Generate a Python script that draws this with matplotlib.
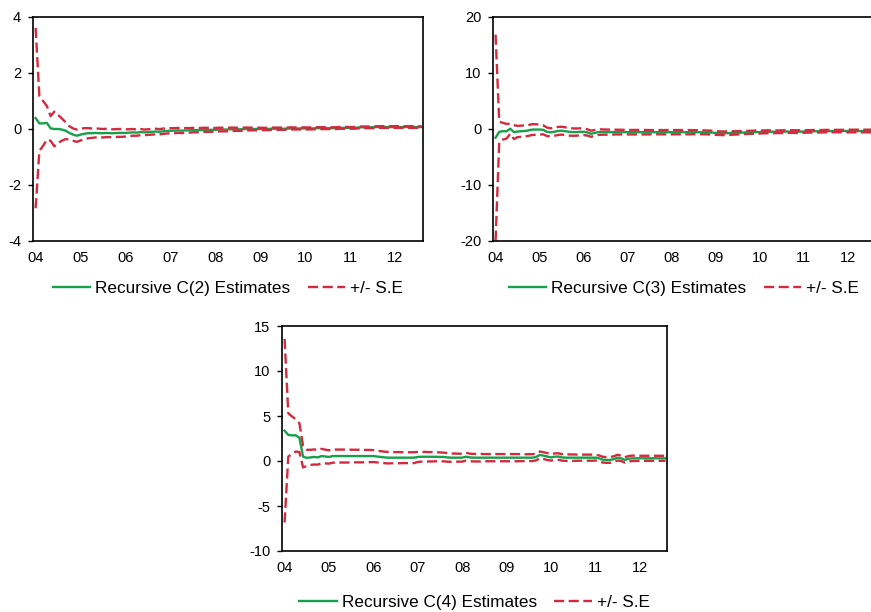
import matplotlib
matplotlib.use("Agg")
import matplotlib.pyplot as plt
import numpy as np

plt.rcParams["font.family"] = ["Liberation Sans", "DejaVu Sans"]
plt.rcParams["axes.unicode_minus"] = False

# Monthly recursive coefficient estimates, 2004M01 - 2012M08
year_labels = ["04", "05", "06", "07", "08", "09", "10", "11", "12"]

c2_est = [
    0.39, 0.20, 0.20, 0.22, 0.02, 0.00, 0.00, -0.02, -0.06, -0.14, -0.20, -0.24,
    -0.20, -0.17, -0.15, -0.15, -0.14, -0.15, -0.15, -0.14, -0.15, -0.15, -0.14, -0.14,
    -0.14, -0.13, -0.12, -0.13, -0.11, -0.12, -0.11, -0.10, -0.09, -0.10, -0.08, -0.07,
    -0.06, -0.06, -0.05, -0.06, -0.05, -0.05, -0.04, -0.04, -0.04, -0.03, -0.03, -0.03,
    -0.03, -0.02, -0.02, -0.02, -0.01, -0.01, -0.01, -0.01, 0.00, 0.00, 0.00, 0.00,
    0.00, 0.00, 0.00, 0.01, 0.01, 0.01, 0.01, 0.01, 0.02, 0.02, 0.02, 0.02,
    0.02, 0.02, 0.02, 0.03, 0.03, 0.03, 0.03, 0.03, 0.03, 0.04, 0.04, 0.04,
    0.04, 0.04, 0.05, 0.06, 0.06, 0.06, 0.06, 0.07, 0.07, 0.07, 0.07, 0.07,
    0.07, 0.07, 0.07, 0.07, 0.07, 0.07, 0.07, 0.07,
]
c2_se = [
    1.61, 0.49, 0.40, 0.30, 0.22, 0.31, 0.25, 0.20, 0.15, 0.12, 0.11, 0.11,
    0.105, 0.10, 0.09, 0.085, 0.08, 0.08, 0.075, 0.075, 0.07, 0.07, 0.07, 0.07,
    0.065, 0.06, 0.06, 0.055, 0.055, 0.05, 0.05, 0.05, 0.05, 0.048, 0.047, 0.046,
    0.045, 0.045, 0.044, 0.043, 0.042, 0.041, 0.040, 0.039, 0.038, 0.037, 0.036, 0.035,
    0.034, 0.033, 0.032, 0.031, 0.030, 0.029, 0.028, 0.027, 0.026, 0.025, 0.024, 0.023,
    0.022, 0.021, 0.021, 0.020, 0.020, 0.020, 0.019, 0.019, 0.019, 0.018, 0.018, 0.018,
    0.018, 0.018, 0.017, 0.017, 0.017, 0.017, 0.016, 0.016, 0.016, 0.016, 0.016, 0.016,
    0.015, 0.015, 0.015, 0.015, 0.015, 0.015, 0.015, 0.015, 0.015, 0.015, 0.015, 0.015,
    0.015, 0.015, 0.015, 0.015, 0.015, 0.015, 0.015, 0.015,
]

c3_est = [
    -1.55, -0.50, -0.40, -0.40, 0.05, -0.55, -0.45, -0.40, -0.35, -0.25, -0.10, -0.10,
    -0.10, -0.15, -0.50, -0.60, -0.50, -0.35, -0.30, -0.40, -0.50, -0.55, -0.55, -0.50,
    -0.50, -0.60, -0.85, -0.70, -0.55, -0.55, -0.55, -0.55, -0.55, -0.55, -0.55, -0.55,
    -0.57, -0.57, -0.57, -0.57, -0.57, -0.57, -0.57, -0.57, -0.57, -0.57, -0.57, -0.57,
    -0.57, -0.57, -0.57, -0.57, -0.57, -0.57, -0.57, -0.57, -0.58, -0.60, -0.62, -0.65,
    -0.70, -0.75, -0.77, -0.75, -0.72, -0.70, -0.68, -0.65, -0.62, -0.60, -0.58, -0.55,
    -0.55, -0.52, -0.50, -0.50, -0.48, -0.50, -0.48, -0.46, -0.45, -0.45, -0.47, -0.48,
    -0.45, -0.43, -0.42, -0.40, -0.40, -0.40, -0.38, -0.38, -0.37, -0.37, -0.37, -0.36,
    -0.36, -0.36, -0.36, -0.36, -0.36, -0.36, -0.36, -0.36,
]
c3_se = [
    9.20, 0.89, 0.75, 0.65, 0.45, 0.62, 0.50, 0.50, 0.50, 0.48, 0.48, 0.47,
    0.45, 0.40, 0.38, 0.36, 0.36, 0.36, 0.35, 0.35, 0.34, 0.33, 0.32, 0.31,
    0.30, 0.28, 0.27, 0.26, 0.25, 0.24, 0.23, 0.22, 0.22, 0.21, 0.21, 0.20,
    0.20, 0.20, 0.20, 0.20, 0.20, 0.20, 0.19, 0.19, 0.19, 0.19, 0.19, 0.19,
    0.19, 0.19, 0.19, 0.19, 0.19, 0.19, 0.18, 0.18, 0.18, 0.17, 0.17, 0.17,
    0.17, 0.16, 0.16, 0.16, 0.16, 0.15, 0.15, 0.15, 0.14, 0.14, 0.14, 0.14,
    0.13, 0.13, 0.13, 0.13, 0.13, 0.12, 0.12, 0.12, 0.12, 0.12, 0.12, 0.12,
    0.11, 0.11, 0.11, 0.11, 0.11, 0.11, 0.11, 0.11, 0.11, 0.11, 0.11, 0.11,
    0.12, 0.12, 0.12, 0.12, 0.12, 0.12, 0.12, 0.12,
]

c4_est = [
    3.37, 2.90, 2.85, 2.85, 2.60, 0.48, 0.35, 0.40, 0.45, 0.40, 0.55, 0.50,
    0.45, 0.55, 0.55, 0.55, 0.55, 0.55, 0.55, 0.55, 0.55, 0.55, 0.55, 0.55,
    0.55, 0.50, 0.45, 0.40, 0.37, 0.37, 0.37, 0.37, 0.37, 0.37, 0.37, 0.37,
    0.45, 0.47, 0.47, 0.47, 0.47, 0.47, 0.45, 0.45, 0.40, 0.37, 0.37, 0.37,
    0.37, 0.48, 0.40, 0.37, 0.37, 0.37, 0.37, 0.37, 0.37, 0.37, 0.37, 0.37,
    0.37, 0.37, 0.37, 0.37, 0.37, 0.37, 0.37, 0.37, 0.45, 0.67, 0.60, 0.50,
    0.40, 0.48, 0.50, 0.40, 0.37, 0.37, 0.37, 0.37, 0.37, 0.37, 0.37, 0.37,
    0.37, 0.30, 0.15, 0.12, 0.12, 0.20, 0.37, 0.30, 0.12, 0.25, 0.30, 0.30,
    0.30, 0.30, 0.30, 0.30, 0.30, 0.30, 0.30, 0.30,
]
c4_se = [
    5.10, 1.20, 1.05, 0.90, 0.80, 0.60, 0.45, 0.42, 0.42, 0.40, 0.40, 0.38,
    0.37, 0.37, 0.36, 0.36, 0.36, 0.36, 0.35, 0.35, 0.35, 0.35, 0.34, 0.34,
    0.33, 0.33, 0.32, 0.32, 0.32, 0.31, 0.31, 0.31, 0.30, 0.30, 0.30, 0.30,
    0.28, 0.27, 0.27, 0.26, 0.26, 0.25, 0.25, 0.24, 0.24, 0.23, 0.23, 0.22,
    0.22, 0.22, 0.21, 0.21, 0.21, 0.21, 0.20, 0.20, 0.20, 0.20, 0.20, 0.20,
    0.20, 0.20, 0.20, 0.20, 0.19, 0.19, 0.19, 0.19, 0.19, 0.19, 0.19, 0.19,
    0.18, 0.18, 0.18, 0.18, 0.18, 0.18, 0.18, 0.17, 0.17, 0.17, 0.17, 0.17,
    0.16, 0.16, 0.16, 0.16, 0.16, 0.16, 0.16, 0.15, 0.15, 0.15, 0.15, 0.15,
    0.14, 0.14, 0.14, 0.14, 0.14, 0.14, 0.14, 0.14,
]

GREEN = "#17a04b"
RED = "#d22a3e"

fig = plt.figure(figsize=(8.71, 6.12), dpi=100)
fig.patch.set_facecolor("white")

panels = [
    # (axes rect, estimates, std errors, coef name, ylim, yticks, legend y)
    ([33 / 871, 1 - 241 / 612, 390 / 871, 224 / 612], c2_est, c2_se, "C(2)",
     (-4, 4), [-4, -2, 0, 2, 4], -0.214),
    ([493 / 871, 1 - 241 / 612, 382 / 871, 224 / 612], c3_est, c3_se, "C(3)",
     (-20, 20), [-20, -10, 0, 10, 20], -0.214),
    ([282 / 871, 1 - 551 / 612, 385 / 871, 225 / 612], c4_est, c4_se, "C(4)",
     (-10, 15), [-10, -5, 0, 5, 10, 15], -0.231),
]

for rect, est, se, name, ylim, yticks, leg_y in panels:
    ax = fig.add_axes(rect)
    est = np.asarray(est)
    se = np.asarray(se)
    x = np.arange(len(est))
    ax.plot(x, est, color=GREEN, lw=1.7, label=f"Recursive {name} Estimates")
    ax.plot(x, est + 2 * se, color=RED, lw=1.7, dashes=(4.3, 1.9),
            label="+/- S.E")
    ax.plot(x, est - 2 * se, color=RED, lw=1.7, dashes=(4.3, 1.9))
    ax.set_xlim(-0.7, 103.4)
    ax.set_ylim(*ylim)
    ax.set_xticks(np.arange(len(year_labels)) * 12)
    ax.set_xticklabels(year_labels)
    ax.set_yticks(yticks)
    ax.set_yticklabels([str(t) for t in yticks])
    ax.tick_params(axis="x", length=0, pad=7.5, labelsize=10.5)
    ax.tick_params(axis="y", direction="out", length=3.5, width=1.0,
                   pad=5.0, labelsize=10.5)
    for sp in ax.spines.values():
        sp.set_linewidth(1.2)
        sp.set_color("black")
    ax.legend(loc="center", bbox_to_anchor=(0.5, leg_y), ncol=2,
              frameon=False, fontsize=12.3, handlelength=2.2,
              handletextpad=0.3, columnspacing=1.0, borderpad=0,
              borderaxespad=0)

fig.savefig("out.png", dpi=100, facecolor="white")
